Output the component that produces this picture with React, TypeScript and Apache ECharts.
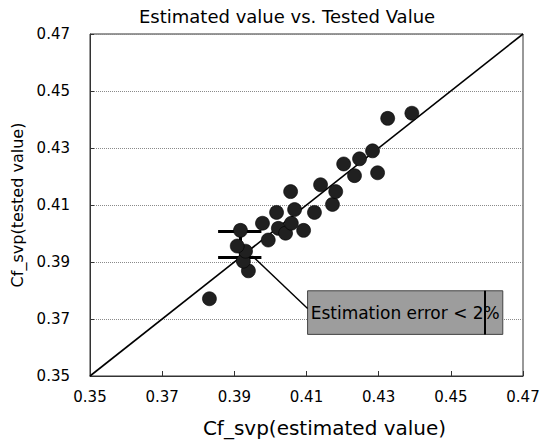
import React, { useEffect, useRef } from "react";
import * as echarts from "echarts";

// ---- data ----
const estimated = [0.3831, 0.3939, 0.3925, 0.3931, 0.3908, 0.3917, 0.3978, 0.3994, 0.4017, 0.4022, 0.4042, 0.4056, 0.4058, 0.4067, 0.4092, 0.4122, 0.4139, 0.4172, 0.4181, 0.4203, 0.4233, 0.4247, 0.4283, 0.4297, 0.4325, 0.4392];
const tested = [0.3771, 0.3869, 0.3903, 0.3938, 0.3956, 0.4011, 0.4036, 0.3977, 0.4074, 0.4018, 0.4001, 0.4147, 0.4036, 0.4084, 0.4011, 0.4074, 0.4171, 0.4102, 0.4147, 0.4244, 0.4203, 0.4262, 0.4290, 0.4213, 0.4404, 0.4422];

const axisMin = 0.35;
const axisMax = 0.47;
const axisStep = 0.02;

const titleText = "Estimated value vs. Tested Value";
const xName = "Cf_svp(estimated value)";
const yName = "Cf_svp(tested value)";

// error bar (I-beam) near the low cluster
const errX = 0.3917;
const errTop = 0.4008;
const errBottom = 0.3917;
const errCapLeft = 0.3855;
const errCapRight = 0.3975;

// annotation
const annotationText = "Estimation error < 2%";
const boxTopLeft = [0.4103, 0.3799];
const boxBottomRight = [0.4644, 0.3646];
const boxInnerLineX = 0.4594;
const connectorFrom = [0.3950, 0.3921];
const connectorTo = [0.4103, 0.3737];

const FONT = "DejaVu Sans";

export default function App() {
  const ref = useRef<HTMLDivElement>(null);

  useEffect(() => {
    if (!ref.current) return;
    const chart = echarts.init(ref.current, null, { renderer: "svg" });
    const points = estimated.map((x, i) => [x, tested[i]]);
    const seg = (a: number[], b: number[], w: number) => [
      { coord: a, lineStyle: { width: w, color: "#000", type: "solid" } },
      { coord: b },
    ];

    chart.setOption({
      animation: false,
      backgroundColor: "#fff",
      title: {
        text: titleText,
        left: 134,
        top: 2,
        textStyle: { fontFamily: FONT, fontSize: 18, fontWeight: "normal", color: "#000" },
      },
      grid: {
        left: 90,
        right: 27,
        top: 34,
        bottom: 64,
        show: true,
        borderColor: "#333",
        borderWidth: 1,
        backgroundColor: "transparent",
      },
      xAxis: {
        type: "value",
        min: axisMin,
        max: axisMax,
        interval: axisStep,
        name: xName,
        nameLocation: "middle",
        nameGap: 42,
        nameTextStyle: { fontFamily: FONT, fontSize: 20, color: "#000", padding: [0, 0, 0, 36] },
        axisLine: { show: true, lineStyle: { color: "#333", width: 1 } },
        axisTick: { show: true, inside: true, length: 5, lineStyle: { color: "#333" } },
        axisLabel: {
          fontFamily: FONT,
          fontSize: 15,
          color: "#000",
          margin: 13,
          formatter: (v: number) => v.toFixed(2),
        },
        splitLine: { show: false },
      },
      yAxis: {
        type: "value",
        min: axisMin,
        max: axisMax,
        interval: axisStep,
        name: yName,
        nameLocation: "middle",
        nameGap: 58,
        nameTextStyle: { fontFamily: FONT, fontSize: 16, color: "#000" },
        axisLine: { show: true, lineStyle: { color: "#333", width: 1 } },
        axisTick: { show: true, inside: true, length: 4, lineStyle: { color: "#333" } },
        axisLabel: {
          fontFamily: FONT,
          fontSize: 15,
          color: "#000",
          margin: 20,
          padding: [8, 0, 0, 0],
          formatter: (v: number) => v.toFixed(2),
        },
        splitLine: { show: true, lineStyle: { color: "#8a8a8a", type: "dotted", width: 1 } },
      },
      series: [
        {
          type: "scatter",
          z: 3,
          data: [],
          silent: true,
          markLine: {
            silent: true,
            symbol: ["none", "none"],
            label: { show: false },
            data: [
              seg([axisMin, axisMin], [axisMax, axisMax], 1.6),
              seg(connectorFrom, connectorTo, 1.4),
            ],
          },
        },
        {
          type: "scatter",
          z: 5,
          symbol: "circle",
          symbolSize: 14,
          itemStyle: { color: "#202020", borderColor: "#000", borderWidth: 0.6, opacity: 1 },
          data: points,
        },
        {
          type: "scatter",
          z: 6,
          data: [],
          silent: true,
          markLine: {
            silent: true,
            symbol: ["none", "none"],
            label: { show: false },
            data: [
              seg([errCapLeft, errTop], [errCapRight, errTop], 3),
              seg([errCapLeft, errBottom], [errCapRight, errBottom], 3),
              seg([errX, errBottom], [errX, errTop], 3),
            ],
          },
        },
        {
          type: "scatter",
          z: 7,
          data: [],
          silent: true,
          markArea: {
            silent: true,
            itemStyle: { color: "#9d9d9d", borderColor: "#444", borderWidth: 1, opacity: 1 },
            label: {
              show: true,
              position: "inside",
              color: "#000",
              fontFamily: FONT,
              fontSize: 17,
            },
            data: [[{ coord: boxTopLeft, name: annotationText }, { coord: boxBottomRight }]],
          },
          markLine: {
            silent: true,
            symbol: ["none", "none"],
            label: { show: false },
            data: [seg([boxInnerLineX, boxTopLeft[1]], [boxInnerLineX, boxBottomRight[1]], 2)],
          },
        },
      ],
    });

    return () => chart.dispose();
  }, []);

  return (
    <div
      ref={ref}
      style={{ position: "fixed", left: 0, top: 0, width: 550, height: 443 }}
    />
  );
}
